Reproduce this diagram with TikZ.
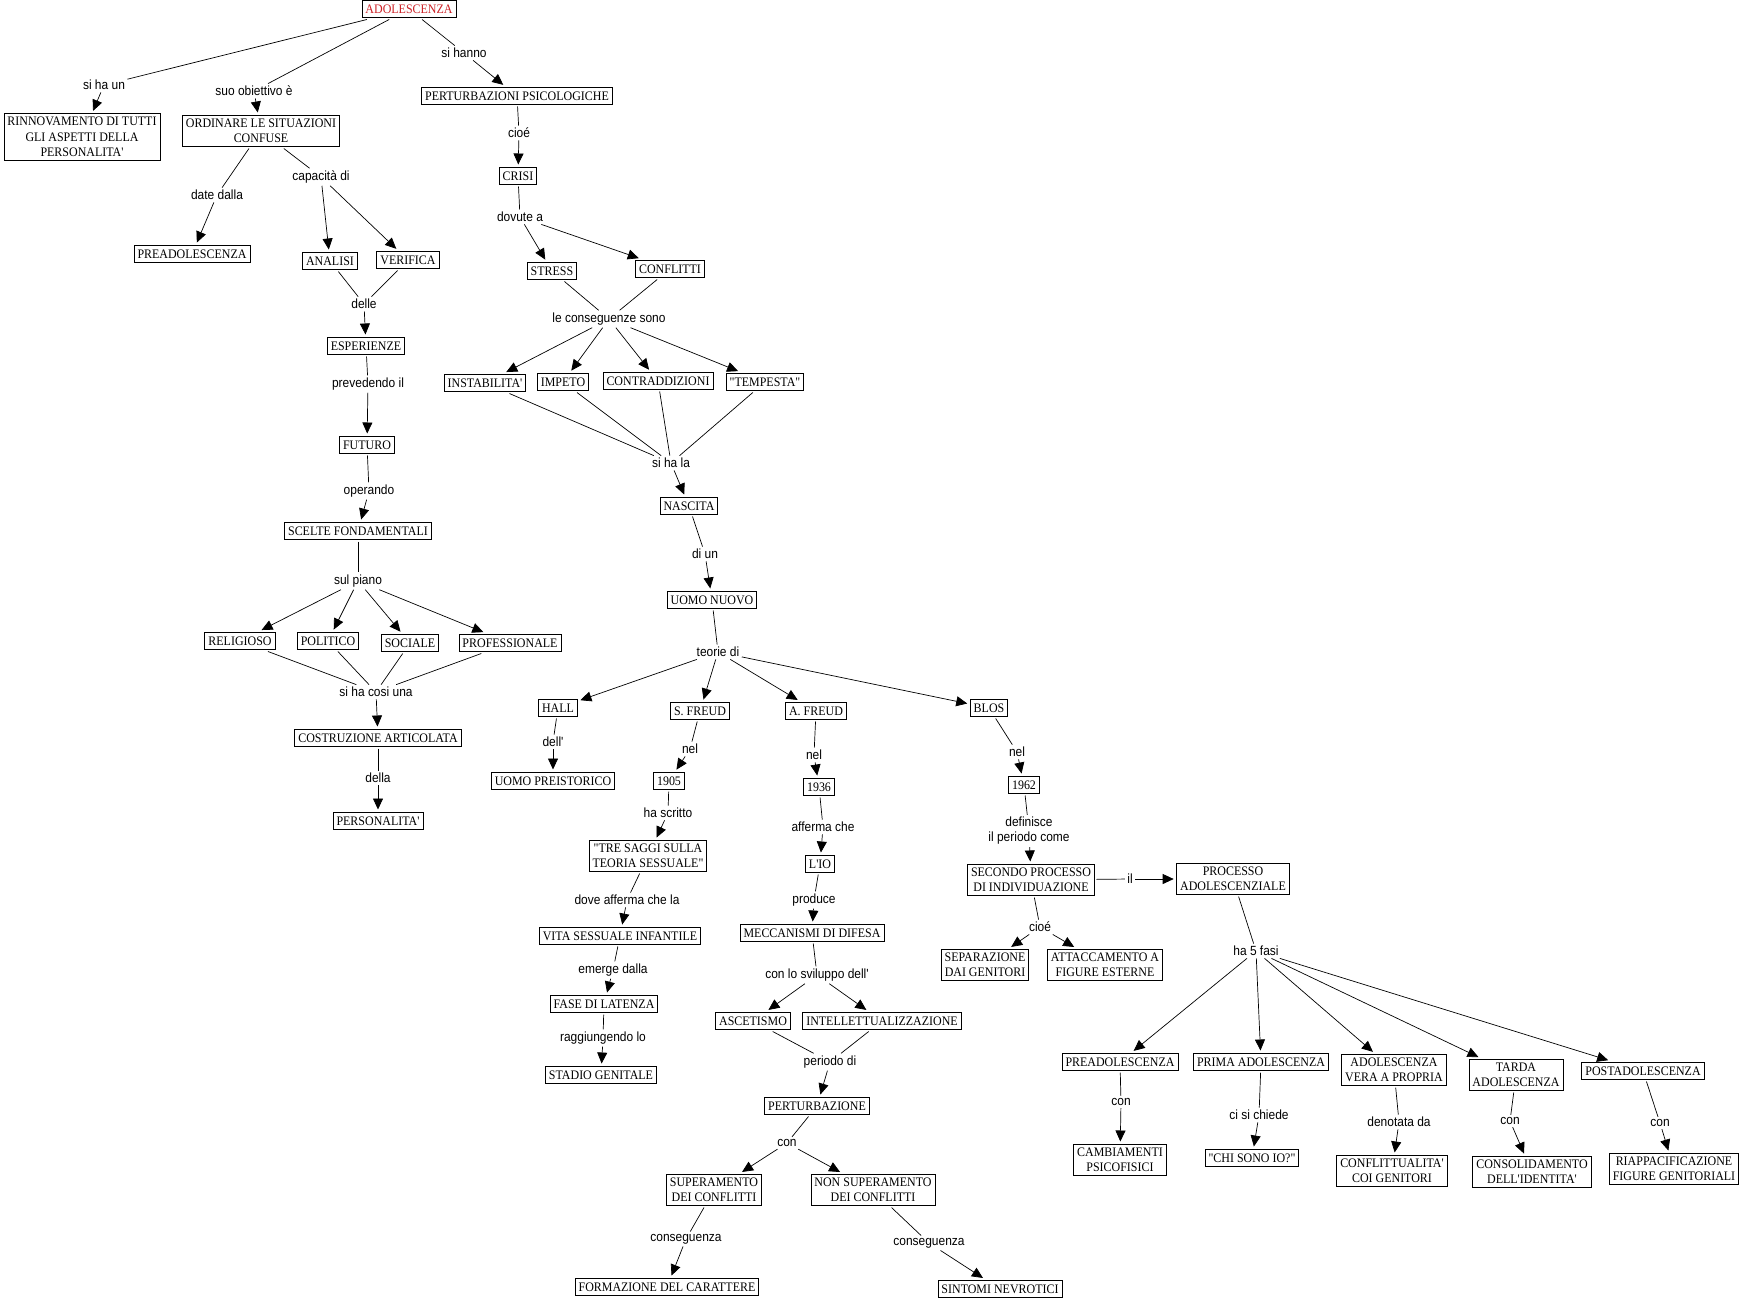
\documentclass[tikz,border=0pt]{standalone}
\usepackage{fontspec}
\setmainfont{Liberation Serif}[Ligatures=TeXOff,FakeStretch=0.92]
\newfontfamily\linkfont{Liberation Sans}[Ligatures=TeXOff,FakeStretch=0.9]
\usetikzlibrary{arrows.meta}
\definecolor{titlered}{RGB}{205,35,40}
\tikzset{
      conceptbox/.style={
        draw=black,
        line width=0.9pt,
        fill=white,
        font=\fontsize{13}{15.3}\selectfont,
        align=center,
        minimum height=17pt,
        inner xsep=3.5pt,
        inner ysep=3.5pt,
        outer sep=2pt
      },
      titlebox/.style={conceptbox, text=titlered},
      linklabel/.style={
        font=\linkfont\fontsize{13.3}{15}\selectfont,
        align=center,
        inner sep=1.5pt,
        outer sep=1pt
      },
      linkline/.style={line width=0.7pt},
      linkarrow/.style={line width=0.7pt, -{Triangle[length=11pt,width=10pt]}, shorten >=1pt}
    }
\begin{document}
\begin{tikzpicture}[x=1pt,y=-1pt]
    \useasboundingbox (0,0) rectangle (1743,1299);
    \node[titlebox] (adol) at (409,9) {ADOLESCENZA};
    \node[linklabel] (lSiHaUn) at (104,85) {si ha un};
    \node[conceptbox] (rinnov) at (82,137) {RINNOVAMENTO DI TUTTI\\GLI ASPETTI DELLA\\PERSONALITA'};
    \node[linklabel] (lObiettivo) at (254,91) {suo obiettivo è};
    \node[conceptbox] (ordinare) at (261,131) {ORDINARE LE SITUAZIONI\\CONFUSE};
    \node[linklabel] (lSiHanno) at (464,53) {si hanno};
    \node[conceptbox] (perturbPsi) at (517,96) {PERTURBAZIONI PSICOLOGICHE};
    \node[linklabel] (lCioe) at (519,133) {cioé};
    \node[conceptbox] (crisi) at (518,176) {CRISI};
    \node[linklabel] (lDovute) at (520,217) {dovute a};
    \node[conceptbox] (stress) at (552,271) {STRESS};
    \node[conceptbox] (conflitti) at (670,269) {CONFLITTI};
    \node[linklabel] (lConseguenze) at (609,319) {le conseguenze sono};
    \node[conceptbox] (instab) at (485,383) {INSTABILITA'};
    \node[conceptbox] (impeto) at (563,382) {IMPETO};
    \node[conceptbox] (contradd) at (658,381) {CONTRADDIZIONI};
    \node[conceptbox] (tempesta) at (765,382) {"TEMPESTA"};
    \node[linklabel] (lSiHaLa) at (671,463) {si ha la};
    \node[conceptbox] (nascita) at (689,506) {NASCITA};
    \node[linklabel] (lDiUn) at (705,554) {di un};
    \node[conceptbox] (uomoNuovo) at (712,600) {UOMO NUOVO};
    \node[linklabel] (lTeorie) at (718,652) {teorie di};
    \node[conceptbox] (hall) at (558,708) {HALL};
    \node[linklabel] (lDell) at (553,742) {dell'};
    \node[conceptbox] (preistorico) at (553,781) {UOMO PREISTORICO};
    \node[conceptbox] (sFreud) at (700,711) {S. FREUD};
    \node[linklabel] (lNelS) at (690,749) {nel};
    \node[conceptbox] (y1905) at (669,781) {1905};
    \node[linklabel] (lScritto) at (668,813) {ha scritto};
    \node[conceptbox] (treSaggi) at (648,856) {"TRE SAGGI SULLA\\TEORIA SESSUALE"};
    \node[linklabel] (lDove) at (627,900) {dove afferma che la};
    \node[conceptbox] (vitaSess) at (620,936) {VITA SESSUALE INFANTILE};
    \node[linklabel] (lEmerge) at (613,970) {emerge dalla};
    \node[conceptbox] (latenza) at (604,1004) {FASE DI LATENZA};
    \node[linklabel] (lRaggiung) at (603,1038) {raggiungendo lo};
    \node[conceptbox] (genitale) at (601,1075) {STADIO GENITALE};
    \node[conceptbox] (aFreud) at (816,711) {A. FREUD};
    \node[linklabel] (lNelA) at (814,755) {nel};
    \node[conceptbox] (y1936) at (819,787) {1936};
    \node[linklabel] (lAfferma) at (823,827) {afferma che};
    \node[conceptbox] (io) at (820,864) {L'IO};
    \node[linklabel] (lProduce) at (814,900) {produce};
    \node[conceptbox] (meccanismi) at (812,933) {MECCANISMI DI DIFESA};
    \node[linklabel] (lSviluppo) at (817,975) {con lo sviluppo dell'};
    \node[conceptbox] (ascetismo) at (753,1021) {ASCETISMO};
    \node[conceptbox] (intellett) at (882,1021) {INTELLETTUALIZZAZIONE};
    \node[linklabel] (lPeriodo) at (830,1062) {periodo di};
    \node[conceptbox] (perturbazione) at (817,1106) {PERTURBAZIONE};
    \node[linklabel] (lCon) at (787,1143) {con};
    \node[conceptbox] (superam) at (714,1190) {SUPERAMENTO\\DEI CONFLITTI};
    \node[conceptbox] (nonSuperam) at (873,1190) {NON SUPERAMENTO\\DEI CONFLITTI};
    \node[linklabel] (lConsSx) at (686,1239) {conseguenza};
    \node[conceptbox] (formazione) at (667,1287) {FORMAZIONE DEL CARATTERE};
    \node[linklabel] (lConsDx) at (929,1243) {conseguenza};
    \node[conceptbox] (sintomi) at (1000,1289) {SINTOMI NEVROTICI};
    \node[conceptbox] (blos) at (989,708) {BLOS};
    \node[linklabel] (lNelB) at (1017,752) {nel};
    \node[conceptbox] (y1962) at (1024,785) {1962};
    \node[linklabel] (lDefinisce) at (1029,831) {definisce\\il periodo come};
    \node[conceptbox] (secondo) at (1031,880) {SECONDO PROCESSO\\DI INDIVIDUAZIONE};
    \node[linklabel] (lIl) at (1130,879) {il};
    \node[conceptbox] (processo) at (1233,879) {PROCESSO\\ADOLESCENZIALE};
    \node[linklabel] (lCioeB) at (1040,927) {cioé};
    \node[conceptbox] (separazione) at (985,965) {SEPARAZIONE\\DAI GENITORI};
    \node[conceptbox] (attaccamento) at (1105,965) {ATTACCAMENTO A\\FIGURE ESTERNE};
    \node[linklabel] (lFasi) at (1256,951) {ha 5 fasi};
    \node[conceptbox] (preadolDx) at (1120,1062) {PREADOLESCENZA};
    \node[conceptbox] (prima) at (1261,1062) {PRIMA ADOLESCENZA};
    \node[conceptbox] (vera) at (1394,1070) {ADOLESCENZA\\VERA A PROPRIA};
    \node[conceptbox] (tarda) at (1516,1075) {TARDA\\ADOLESCENZA};
    \node[conceptbox] (postAdol) at (1643,1071) {POSTADOLESCENZA};
    \node[linklabel] (lConPre) at (1121,1102) {con};
    \node[conceptbox] (cambiamenti) at (1120,1160) {CAMBIAMENTI\\PSICOFISICI};
    \node[linklabel] (lChiede) at (1259,1115) {ci si chiede};
    \node[conceptbox] (chiSono) at (1252,1158) {"CHI SONO IO?"};
    \node[linklabel] (lDenotata) at (1399,1122) {denotata da};
    \node[conceptbox] (conflittualita) at (1392,1171) {CONFLITTUALITA'\\COI GENITORI};
    \node[linklabel] (lConTarda) at (1510,1121) {con};
    \node[conceptbox] (consolid) at (1532,1172) {CONSOLIDAMENTO\\DELL'IDENTITA'};
    \node[linklabel] (lConPost) at (1660,1123) {con};
    \node[conceptbox] (riappac) at (1674,1169) {RIAPPACIFICAZIONE\\FIGURE GENITORIALI};
    \node[linklabel] (lDate) at (217,195) {date dalla};
    \node[conceptbox] (preadolSx) at (192,254) {PREADOLESCENZA};
    \node[linklabel] (lCapacita) at (321,177) {capacità di};
    \node[conceptbox] (analisi) at (330,261) {ANALISI};
    \node[conceptbox] (verifica) at (408,260) {VERIFICA};
    \node[linklabel] (lDelle) at (364,304) {delle};
    \node[conceptbox] (esperienze) at (366,346) {ESPERIENZE};
    \node[linklabel] (lPrevedendo) at (368,384) {prevedendo il};
    \node[conceptbox] (futuro) at (367,445) {FUTURO};
    \node[linklabel] (lOperando) at (369,491) {operando};
    \node[conceptbox] (scelte) at (358,531) {SCELTE FONDAMENTALI};
    \node[linklabel] (lPiano) at (358,581) {sul piano};
    \node[conceptbox] (religioso) at (240,641) {RELIGIOSO};
    \node[conceptbox] (politico) at (328,641) {POLITICO};
    \node[conceptbox] (sociale) at (410,643) {SOCIALE};
    \node[conceptbox] (professionale) at (510,643) {PROFESSIONALE};
    \node[linklabel] (lCosi) at (376,692) {si ha cosi una};
    \node[conceptbox] (costruzione) at (378,738) {COSTRUZIONE ARTICOLATA};
    \node[linklabel] (lDella) at (378,778) {della};
    \node[conceptbox] (personalita) at (378,821) {PERSONALITA'};
    \draw[linkline] (adol) -- (lSiHaUn);
    \draw[linkarrow] (lSiHaUn) -- (rinnov);
    \draw[linkline] (adol) -- (lObiettivo);
    \draw[linkarrow] (lObiettivo) -- (ordinare);
    \draw[linkline] (adol) -- (lSiHanno);
    \draw[linkarrow] (lSiHanno) -- (perturbPsi);
    \draw[linkline] (perturbPsi) -- (lCioe);
    \draw[linkarrow] (lCioe) -- (crisi);
    \draw[linkline] (crisi) -- (lDovute);
    \draw[linkarrow] (lDovute) -- (stress);
    \draw[linkarrow] (lDovute) -- (conflitti);
    \draw[linkline] (stress) -- (lConseguenze);
    \draw[linkline] (conflitti) -- (lConseguenze);
    \draw[linkarrow] (lConseguenze) -- (instab);
    \draw[linkarrow] (lConseguenze) -- (impeto);
    \draw[linkarrow] (lConseguenze) -- (contradd);
    \draw[linkarrow] (lConseguenze) -- (tempesta);
    \draw[linkline] (instab) -- (lSiHaLa);
    \draw[linkline] (impeto) -- (lSiHaLa);
    \draw[linkline] (contradd) -- (lSiHaLa);
    \draw[linkline] (tempesta) -- (lSiHaLa);
    \draw[linkarrow] (lSiHaLa) -- (nascita);
    \draw[linkline] (nascita) -- (lDiUn);
    \draw[linkarrow] (lDiUn) -- (uomoNuovo);
    \draw[linkline] (uomoNuovo) -- (lTeorie);
    \draw[linkarrow] (lTeorie) -- (hall);
    \draw[linkarrow] (lTeorie) -- (sFreud);
    \draw[linkarrow] (lTeorie) -- (aFreud);
    \draw[linkarrow] (lTeorie) -- (blos);
    \draw[linkline] (hall) -- (lDell);
    \draw[linkarrow] (lDell) -- (preistorico);
    \draw[linkline] (sFreud) -- (lNelS);
    \draw[linkarrow] (lNelS) -- (y1905);
    \draw[linkline] (y1905) -- (lScritto);
    \draw[linkarrow] (lScritto) -- (treSaggi);
    \draw[linkline] (treSaggi) -- (lDove);
    \draw[linkarrow] (lDove) -- (vitaSess);
    \draw[linkline] (vitaSess) -- (lEmerge);
    \draw[linkarrow] (lEmerge) -- (latenza);
    \draw[linkline] (latenza) -- (lRaggiung);
    \draw[linkarrow] (lRaggiung) -- (genitale);
    \draw[linkline] (aFreud) -- (lNelA);
    \draw[linkarrow] (lNelA) -- (y1936);
    \draw[linkline] (y1936) -- (lAfferma);
    \draw[linkarrow] (lAfferma) -- (io);
    \draw[linkline] (io) -- (lProduce);
    \draw[linkarrow] (lProduce) -- (meccanismi);
    \draw[linkline] (meccanismi) -- (lSviluppo);
    \draw[linkarrow] (lSviluppo) -- (ascetismo);
    \draw[linkarrow] (lSviluppo) -- (intellett);
    \draw[linkline] (ascetismo) -- (lPeriodo);
    \draw[linkline] (intellett) -- (lPeriodo);
    \draw[linkarrow] (lPeriodo) -- (perturbazione);
    \draw[linkline] (perturbazione) -- (lCon);
    \draw[linkarrow] (lCon) -- (superam);
    \draw[linkarrow] (lCon) -- (nonSuperam);
    \draw[linkline] (superam) -- (lConsSx);
    \draw[linkarrow] (lConsSx) -- (formazione);
    \draw[linkline] (nonSuperam) -- (lConsDx);
    \draw[linkarrow] (lConsDx) -- (sintomi);
    \draw[linkline] (blos) -- (lNelB);
    \draw[linkarrow] (lNelB) -- (y1962);
    \draw[linkline] (y1962) -- (lDefinisce);
    \draw[linkarrow] (lDefinisce) -- (secondo);
    \draw[linkline] (secondo) -- (lIl);
    \draw[linkarrow] (lIl) -- (processo);
    \draw[linkline] (secondo) -- (lCioeB);
    \draw[linkarrow] (lCioeB) -- (separazione);
    \draw[linkarrow] (lCioeB) -- (attaccamento);
    \draw[linkline] (processo) -- (lFasi);
    \draw[linkarrow] (lFasi) -- (preadolDx);
    \draw[linkarrow] (lFasi) -- (prima);
    \draw[linkarrow] (lFasi) -- (vera);
    \draw[linkarrow] (lFasi) -- (tarda);
    \draw[linkarrow] (lFasi) -- (postAdol);
    \draw[linkline] (preadolDx) -- (lConPre);
    \draw[linkarrow] (lConPre) -- (cambiamenti);
    \draw[linkline] (prima) -- (lChiede);
    \draw[linkarrow] (lChiede) -- (chiSono);
    \draw[linkline] (vera) -- (lDenotata);
    \draw[linkarrow] (lDenotata) -- (conflittualita);
    \draw[linkline] (tarda) -- (lConTarda);
    \draw[linkarrow] (lConTarda) -- (consolid);
    \draw[linkline] (postAdol) -- (lConPost);
    \draw[linkarrow] (lConPost) -- (riappac);
    \draw[linkline] (ordinare) -- (lDate);
    \draw[linkarrow] (lDate) -- (preadolSx);
    \draw[linkline] (ordinare) -- (lCapacita);
    \draw[linkarrow] (lCapacita) -- (analisi);
    \draw[linkarrow] (lCapacita) -- (verifica);
    \draw[linkline] (analisi) -- (lDelle);
    \draw[linkline] (verifica) -- (lDelle);
    \draw[linkarrow] (lDelle) -- (esperienze);
    \draw[linkline] (esperienze) -- (lPrevedendo);
    \draw[linkarrow] (lPrevedendo) -- (futuro);
    \draw[linkline] (futuro) -- (lOperando);
    \draw[linkarrow] (lOperando) -- (scelte);
    \draw[linkline] (scelte) -- (lPiano);
    \draw[linkarrow] (lPiano) -- (religioso);
    \draw[linkarrow] (lPiano) -- (politico);
    \draw[linkarrow] (lPiano) -- (sociale);
    \draw[linkarrow] (lPiano) -- (professionale);
    \draw[linkline] (religioso) -- (lCosi);
    \draw[linkline] (politico) -- (lCosi);
    \draw[linkline] (sociale) -- (lCosi);
    \draw[linkline] (professionale) -- (lCosi);
    \draw[linkarrow] (lCosi) -- (costruzione);
    \draw[linkline] (costruzione) -- (lDella);
    \draw[linkarrow] (lDella) -- (personalita);
    \end{tikzpicture}
\end{document}
